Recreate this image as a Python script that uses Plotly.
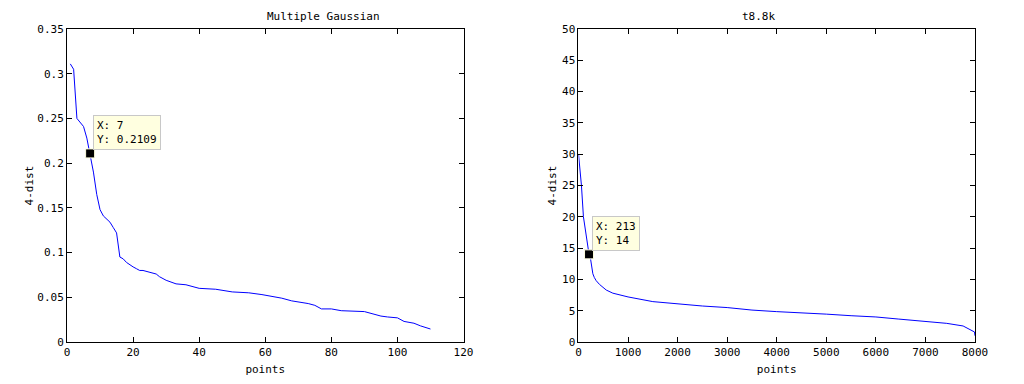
import plotly.graph_objects as go
from plotly.subplots import make_subplots

# sorted 4-dist curves
gauss_x = [1, 2, 3, 4, 5, 6, 7, 8, 9, 10, 11, 12, 13, 14, 15, 16, 17, 18, 19, 20,
           21, 22, 23, 25, 27, 28, 30, 33, 36, 40, 45, 50, 55, 59, 62, 65, 68, 70,
           73, 75, 77, 80, 83, 90, 93, 95, 97, 100, 102, 105, 107, 110]
gauss_y = [0.311, 0.305, 0.250, 0.245, 0.241, 0.228, 0.2109, 0.190, 0.165, 0.148,
           0.141, 0.138, 0.134, 0.128, 0.122, 0.095, 0.093, 0.089, 0.086, 0.084,
           0.082, 0.080, 0.080, 0.078, 0.076, 0.073, 0.069, 0.065, 0.064, 0.060,
           0.059, 0.056, 0.055, 0.053, 0.051, 0.049, 0.046, 0.045, 0.043, 0.041,
           0.037, 0.037, 0.035, 0.034, 0.031, 0.029, 0.028, 0.027, 0.023, 0.021,
           0.018, 0.0145]

t8_x = [1, 30, 60, 100, 150, 213, 245, 269, 290, 320, 357, 424, 490, 560, 693,
        850, 1000, 1500, 2000, 2500, 3000, 3500, 4000, 4500, 5000, 5500, 6000,
        6450, 6950, 7430, 7760, 7930, 7990, 8000]
t8_y = [30, 27.5, 25, 20, 17, 14, 13.2, 12, 10.9, 10.3, 9.8, 9.2, 8.7, 8.3, 7.8,
        7.45, 7.2, 6.45, 6.07, 5.75, 5.5, 5.1, 4.85, 4.7, 4.45, 4.2, 4.0, 3.67,
        3.35, 2.98, 2.56, 1.9, 1.6, 1.0]

# data tips
tip1 = (7, 0.2109)
tip2 = (213, 14)

font = dict(family="DejaVu Sans Mono", size=11, color="black")

fig = make_subplots(rows=1, cols=2, horizontal_spacing=0.1266)

fig.add_trace(go.Scatter(x=gauss_x, y=gauss_y, mode="lines",
                         line=dict(color="#0000ff", width=1)), row=1, col=1)
fig.add_trace(go.Scatter(x=t8_x, y=t8_y, mode="lines",
                         line=dict(color="#0000ff", width=1)), row=1, col=2)

for (tx, ty), c in [(tip1, 1), (tip2, 2)]:
    fig.add_trace(go.Scatter(x=[tx], y=[ty], mode="markers",
                             marker=dict(symbol="square", size=9, color="black",
                                         line=dict(color="#ffffe0", width=1))),
                  row=1, col=c)

ax = dict(showline=True, linecolor="black", linewidth=1, mirror="allticks",
          ticks="inside", ticklen=5, tickcolor="black", showgrid=False,
          zeroline=False, tickfont=font, automargin=False)

fig.update_xaxes(ax)
fig.update_yaxes(ax)
fig.update_xaxes(range=[0, 120], dtick=20, title=dict(text="points", font=font, standoff=7), row=1, col=1)
fig.update_yaxes(range=[0, 0.35], dtick=0.05, title=dict(text="4-dist", font=font, standoff=1), row=1, col=1)
fig.update_xaxes(range=[0, 8000], dtick=1000, tickformat="d", title=dict(text="points", font=font, standoff=7), row=1, col=2)
fig.update_yaxes(range=[0, 50], dtick=5, title=dict(text="4-dist", font=font, standoff=3), row=1, col=2)

tip_style = dict(showarrow=False, xanchor="left", yanchor="bottom", align="left",
                 bgcolor="#ffffe0", bordercolor="#c8c8c8", borderwidth=1,
                 borderpad=3, font=font, xshift=3, yshift=3)
fig.add_annotation(x=tip1[0], y=tip1[1], xref="x", yref="y",
                   text="X: 7<br>Y: 0.2109", **tip_style)
fig.add_annotation(x=tip2[0], y=tip2[1], xref="x2", yref="y2",
                   text="X: 213<br>Y: 14", **tip_style)

fig.add_annotation(x=0.218, y=1.0, xref="paper", yref="paper", yanchor="bottom",
                   yshift=4, showarrow=False, text="Multiple Gaussian", font=font)
fig.add_annotation(x=0.782, y=1.0, xref="paper", yref="paper", yanchor="bottom",
                   yshift=4, showarrow=False, text="t8.8k", font=font)

fig.update_layout(width=1024, height=384, showlegend=False,
                  margin=dict(l=59, r=57, t=21, b=50),
                  plot_bgcolor="white", paper_bgcolor="white", font=font)

fig.write_html("out.html")
